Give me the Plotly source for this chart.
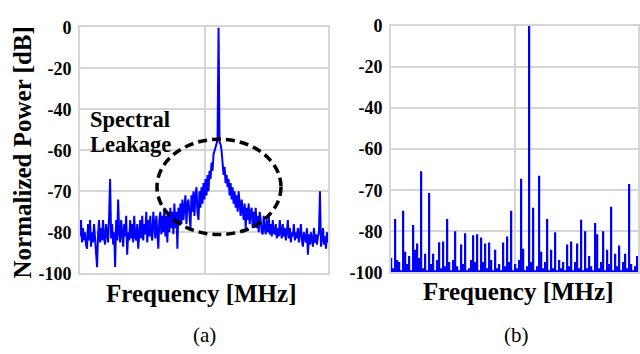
import numpy as np
import plotly.graph_objects as go

# y-axis tick values (dB) and their labels (equally spaced on the chart)
db_ticks = [-100, -80, -70, -60, -40, -20, 0]
tick_text = ["-100", "-80", "-70", "-60", "-40", "-20", "0"]

# (a) spectrum with spectral leakage, dB per frequency bin
spec_a_db = [
    -82, -77, -85, -79, -84, -80, -86, -88, -78, -84, -77, -87, -80, -85, -78, -83, -86, -97, -81, -77,
    -85, -79, -84, -77, -83, -86, -78, -82, -85, -76, -67, -83, -78, -86, -80, -97, -77, -84, -72, -80,
    -85, -77, -83, -87, -78, -82, -76, -91, -80, -84, -77, -83, -78, -85, -76, -82, -84, -78, -88, -80,
    -77, -83, -76, -84, -78, -81, -75, -85, -77, -82, -76, -81, -84, -75, -80, -83, -76, -81, -88, -77,
    -75, -81, -76, -80, -74, -82, -76, -85, -75, -80, -74, -79, -75, -81, -73, -79, -75, -88, -74, -78,
    -73, -78, -72, -77, -74, -71, -78, -73, -72, -77, -79, -71, -75, -70, -76, -71, -69, -75, -77, -70,
    -74, -69, -73, -68, -72, -67, -71, -66, -70, -65, -67, -63, -65, -61, -60, -58, -56, -55, 0, -56,
    -57, -60, -63, -66, -64, -68, -66, -69, -67, -71, -68, -72, -69, -73, -70, -74, -71, -75, -70, -73,
    -76, -72, -75, -77, -73, -79, -74, -77, -73, -78, -75, -74, -79, -75, -78, -74, -79, -76, -80, -75,
    -77, -80, -81, -76, -79, -81, -77, -80, -76, -81, -78, -82, -77, -80, -81, -78, -83, -79, -82, -77,
    -80, -83, -78, -82, -79, -84, -80, -77, -83, -79, -85, -80, -82, -78, -84, -80, -83, -79, -85, -81,
    -78, -84, -87, -80, -83, -85, -79, -91, -81, -86, -80, -84, -87, -79, -85, -81, -86, -82, -80, -70,
    -87, -83, -79, -86, -82, -88, -80, -85,
]

# (b) sparse spectrum, dB per frequency bin
spec_b_db = [
    -93, -98, -77, -94, -95, -99, -75, -90, -96, -92,
    -99, -78.5, -89, -86, -93, -65.4, -98, -91, -99, -70.7,
    -96, -91, -99, -94, -85.4, -98, -85, -97, -77, -95,
    -99, -94, -80, -97, -99, -86.5, -96, -81, -99, -98,
    -94, -82, -95, -81.5, -99, -83, -95, -86, -98, -85.5,
    -94, -99, -89, -98, -96, -99, -85.5, -97, -82.5, -95,
    -75, -99, -96, -98, -94, -67.2, -88.5, -99, -97, 0,
    -95, -74.3, -99, -97, -66.5, -90, -98, -95, -77, -99,
    -89, -98, -80.5, -99, -94, -98, -95, -99, -86.5, -97,
    -85, -99, -95, -86, -98, -77.2, -99, -80, -98, -92,
    -97, -99, -78, -81.5, -98, -95, -80, -99, -89, -96,
    -74, -99, -91, -97, -87, -99, -95, -91, -98, -68.5,
    -96, -99, -97, -92,
]


def to_pos(values):
    # chart's y scale: tick labels are equally spaced
    return np.interp(values, db_ticks, list(range(len(db_ticks))))


W, H = 640, 354
BLUE = "#0000ff"
GRID = "#d6d6d6"
SERIF = "Liberation Serif"

fig = go.Figure()
fig.add_trace(go.Scatter(
    x=list(range(len(spec_a_db))), y=to_pos(spec_a_db), mode="lines",
    line=dict(color=BLUE, width=2), xaxis="x", yaxis="y",
    showlegend=False, hoverinfo="skip"))
fig.add_trace(go.Bar(
    x=list(range(len(spec_b_db))), y=to_pos(spec_b_db), width=0.85,
    marker=dict(color=BLUE, line=dict(width=0)), xaxis="x2", yaxis="y2",
    showlegend=False, hoverinfo="skip"))

xcommon = dict(showticklabels=False, ticks="", showgrid=True, gridcolor=GRID, gridwidth=2,
               showline=True, mirror=True, linecolor=GRID, linewidth=2, zeroline=False)
ycommon = dict(range=[0, 6], tickvals=list(range(7)), ticktext=tick_text, ticks="",
               tickfont=dict(family=SERIF, size=18, color="black", weight="bold"),
               ticklabelstandoff=3,
               showgrid=True, gridcolor=GRID, gridwidth=2,
               showline=True, mirror=True, linecolor=GRID, linewidth=2, zeroline=False)

fig.update_layout(
    width=W, height=H, margin=dict(l=0, r=0, t=0, b=0),
    paper_bgcolor="white", plot_bgcolor="white", showlegend=False,
    xaxis=dict(domain=[80 / W, 328 / W], range=[0, 247], tickvals=[124], anchor="y", **xcommon),
    yaxis=dict(domain=[1 - 279 / H, 1 - 18.5 / H], anchor="x", **ycommon),
    xaxis2=dict(domain=[391 / W, 638 / W], range=[-0.2, 123.3], tickvals=[62], anchor="y2", **xcommon),
    yaxis2=dict(domain=[1 - 278 / H, 1 - 17 / H], anchor="x2", **ycommon),
)


def ann(text, x, y, size, bold=True, angle=0, xanchor="center"):
    fig.add_annotation(
        text=f"<b>{text}</b>" if bold else text, xref="paper", yref="paper",
        x=x / W, y=1 - y / H, showarrow=False, textangle=angle,
        xanchor=xanchor, yanchor="middle",
        font=dict(family=SERIF, size=size, color="black"))


ann("Normalized Power [dB]", 22, 151, 25, angle=-90)
ann("Frequency [MHz]", 201, 301, 25)
ann("Frequency [MHz]", 518, 298, 25)
ann("(a)", 204, 344, 21, bold=False)
ann("(b)", 516, 344, 21, bold=False)
ann("Spectral", 88, 116, 22.5, xanchor="left")
ann("Leakage", 88, 143, 22.5, xanchor="left")

fig.add_shape(type="circle", xref="paper", yref="paper",
              x0=157 / W, x1=281 / W, y0=1 - 238 / H, y1=1 - 137 / H,
              line=dict(color="black", width=3.5, dash="9px,5px"))

fig.write_html("out.html")
